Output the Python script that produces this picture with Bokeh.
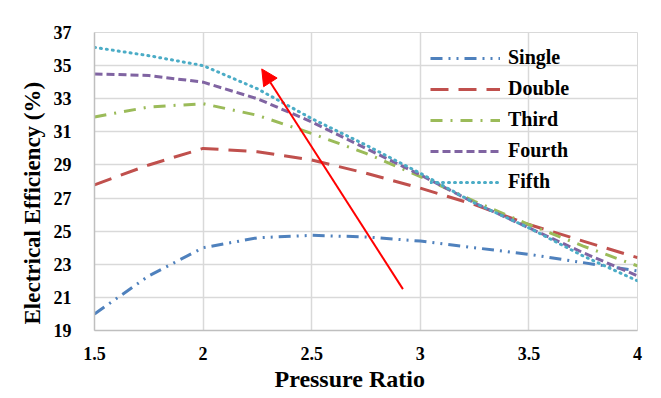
from bokeh.plotting import figure
from bokeh.models import Legend, LegendItem, Arrow, NormalHead, FixedTicker, Title
from bokeh.embed import file_html
from bokeh.resources import INLINE

pressure_ratio = [1.5, 1.75, 2.0, 2.25, 2.5, 2.75, 3.0, 3.25, 3.5, 3.75, 4.0]
single = [20.0, 22.3, 24.0, 24.6, 24.75, 24.65, 24.4, 24.0, 23.6, 23.1, 22.6]
double = [27.8, 29.0, 30.0, 29.8, 29.3, 28.5, 27.6, 26.6, 25.4, 24.4, 23.4]
third = [31.9, 32.5, 32.7, 32.0, 30.9, 29.7, 28.3, 26.8, 25.4, 24.1, 22.9]
fourth = [34.5, 34.4, 34.0, 33.0, 31.6, 30.0, 28.4, 26.7, 25.2, 23.7, 22.3]
fifth = [36.1, 35.6, 35.0, 33.6, 31.8, 30.2, 28.5, 26.7, 25.2, 23.5, 22.0]

x_ticks = [1.5, 2, 2.5, 3, 3.5, 4]
y_ticks = [19, 21, 23, 25, 27, 29, 31, 33, 35, 37]
x_title = "Pressure Ratio"
y_title = "Electrical Efficiency (%)"

arrow_start = (2.92, 21.5)
arrow_end = (2.27, 34.8)

FONT = "Liberation Serif"

p = figure(width=645, height=393, output_backend="svg", toolbar_location=None,
           x_range=(1.5, 4), y_range=(19, 37),
           min_border_left=94, min_border_right=8, min_border_top=32, min_border_bottom=63)
p.background_fill_color = "white"
p.border_fill_color = "white"
p.outline_line_color = "#d9d9d9"

for ax in (p.xaxis[0], p.yaxis[0]):
    ax.major_label_text_font = FONT
    ax.major_label_text_font_style = "bold"
    ax.major_label_text_font_size = "18px"
    ax.major_label_text_color = "black"
    ax.axis_line_color = "#bfbfbf"
    ax.axis_line_width = 1.5
    ax.major_tick_line_color = None
    ax.minor_tick_line_color = None

p.xaxis.ticker = FixedTicker(ticks=x_ticks)
p.yaxis.ticker = FixedTicker(ticks=y_ticks)
p.xaxis.major_label_overrides = {1.5: "1.5", 2: "2", 2.5: "2.5", 3: "3", 3.5: "3.5", 4: "4"}
p.xaxis.major_label_standoff = 10
p.yaxis.major_label_standoff = 17

xt = Title(text=x_title, align="left", offset=180, standoff=2,
           text_font=FONT, text_font_style="bold", text_font_size="24px", text_color="black")
p.add_layout(xt, "below")
yt = Title(text=y_title, align="left", offset=6, standoff=12,
           text_font=FONT, text_font_style="bold", text_font_size="23px", text_color="black")
p.add_layout(yt, "left")

p.xgrid.grid_line_color = "#d9d9d9"
p.ygrid.grid_line_color = "#d9d9d9"
p.xgrid.grid_line_width = 1.5
p.ygrid.grid_line_width = 1.5

series = [
    ("Single", single, "#4F81BD", "12 6 2 6 2 6", "butt"),
    ("Double", double, "#C0504D", "18 10", "butt"),
    ("Third", third, "#9BBB59", "12 8 2 8", "butt"),
    ("Fourth", fourth, "#8064A2", "8 4", "butt"),
    ("Fifth", fifth, "#4BACC6", "1 5", "round"),
]

items = []
for name, ys, color, dash, cap in series:
    r = p.line(pressure_ratio, ys, line_color=color, line_width=3, line_dash=dash,
               line_cap=cap, line_join="round")
    items.append(LegendItem(label=name, renderers=[r]))

p.add_layout(Arrow(end=NormalHead(size=16, fill_color="red", line_color="red"),
                   x_start=arrow_start[0], y_start=arrow_start[1],
                   x_end=arrow_end[0], y_end=arrow_end[1],
                   line_color="red", line_width=2))

legend = Legend(items=items, location=(336, 137))
legend.background_fill_alpha = 0
legend.border_line_color = None
legend.label_text_font = FONT
legend.label_text_font_style = "bold"
legend.label_text_font_size = "20px"
legend.label_text_color = "black"
legend.glyph_width = 70
legend.glyph_height = 20
legend.spacing = 8
legend.label_standoff = 8
legend.padding = 0
legend.margin = 0
p.add_layout(legend, "center")

open("out.html", "w").write(file_html(p, INLINE))
